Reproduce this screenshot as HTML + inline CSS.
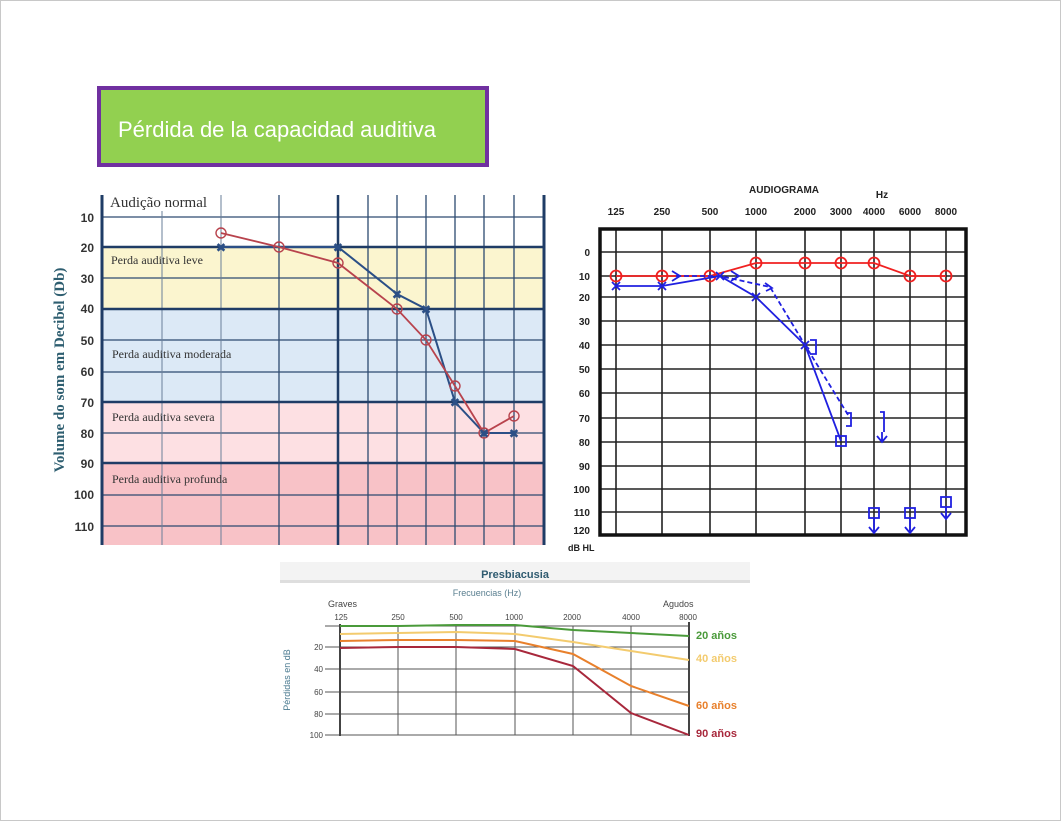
<!DOCTYPE html>
<html><head><meta charset="utf-8"><style>
html,body{margin:0;padding:0;background:#fff;}
svg{display:block;}
</style></head><body>
<svg width="1062" height="822" viewBox="0 0 1062 822" xmlns="http://www.w3.org/2000/svg" font-family="Liberation Sans, sans-serif">
<rect x="0.5" y="0.5" width="1060" height="820" fill="#fff" stroke="#c8c8c8"/>
<!-- title -->
<rect x="99" y="88" width="388" height="77" fill="#92d050" stroke="#7030a0" stroke-width="4"/>
<text x="118" y="137" font-size="22" fill="#fff">Pérdida de la capacidad auditiva</text>

<!-- LEFT CHART -->
<g>
<rect x="102" y="195" width="441" height="52" fill="#ffffff"/>
<rect x="102" y="247" width="441" height="62" fill="#fbf5cf"/>
<rect x="102" y="309" width="441" height="93" fill="#dce9f6"/>
<rect x="102" y="402" width="441" height="61" fill="#fde0e3"/>
<rect x="102" y="463" width="441" height="82" fill="#f8c2c7"/>
<g stroke="#2d4a70" stroke-width="1.3">
<line x1="102" x2="543" y1="217" y2="217"/><line x1="102" x2="543" y1="278" y2="278"/>
<line x1="102" x2="543" y1="340" y2="340"/><line x1="102" x2="543" y1="372" y2="372"/>
<line x1="102" x2="543" y1="433" y2="433"/><line x1="102" x2="543" y1="495" y2="495"/>
<line x1="102" x2="543" y1="526" y2="526"/>
<line x1="162" x2="162" y1="195" y2="545" stroke="#6a7f99" stroke-width="1"/>
<line x1="221" x2="221" y1="195" y2="545" stroke="#6a7f99" stroke-width="1"/>
<line x1="279" x2="279" y1="195" y2="545"/>
<line x1="368" x2="368" y1="195" y2="545"/><line x1="397" x2="397" y1="195" y2="545"/>
<line x1="426" x2="426" y1="195" y2="545"/><line x1="455" x2="455" y1="195" y2="545"/>
<line x1="484" x2="484" y1="195" y2="545"/><line x1="514" x2="514" y1="195" y2="545"/>
</g>
<g stroke="#1f3c66" stroke-width="2.5">
<line x1="102" x2="543" y1="247" y2="247"/><line x1="102" x2="543" y1="309" y2="309"/>
<line x1="102" x2="543" y1="402" y2="402"/><line x1="102" x2="543" y1="463" y2="463"/>
<line x1="102" x2="102" y1="195" y2="545" stroke-width="3"/>
<line x1="338" x2="338" y1="195" y2="545"/>
<line x1="544" x2="544" y1="195" y2="545" stroke-width="3"/>
</g>
<rect x="108" y="193" width="112" height="18" fill="#fff"/>
<g font-family="Liberation Serif, serif" fill="#333">
<text x="110" y="207" font-size="15">Audição normal</text>
<text x="111" y="264" font-size="12">Perda auditiva leve</text>
<text x="112" y="358" font-size="12">Perda auditiva moderada</text>
<text x="112" y="421" font-size="12">Perda auditiva severa</text>
<text x="112" y="483" font-size="12">Perda auditiva profunda</text>
</g>
<g font-size="12" font-weight="bold" fill="#333" text-anchor="end">
<text x="94" y="222">10</text><text x="94" y="252">20</text><text x="94" y="283">30</text>
<text x="94" y="313">40</text><text x="94" y="345">50</text><text x="94" y="376">60</text>
<text x="94" y="407">70</text><text x="94" y="438">80</text><text x="94" y="468">90</text>
<text x="94" y="499">100</text><text x="94" y="531">110</text>
</g>
<text transform="translate(64,370) rotate(-90)" text-anchor="middle" font-family="Liberation Serif, serif" font-weight="bold" font-size="15" fill="#2e5e70">Volume do som em Decibel (Db)</text>
<polyline points="221,247 279,247 338,247 397,294 426,309 455,402 484,433 514,433" fill="none" stroke="#2b4f86" stroke-width="2"/>
<polyline points="221,233 279,247 338,263 397,309 426,340 455,386 484,433 514,416" fill="none" stroke="#b8434d" stroke-width="1.8"/>
<g fill="none" stroke="#b8434d" stroke-width="1.4">
<circle cx="221" cy="233" r="5"/><circle cx="279" cy="247" r="5"/><circle cx="338" cy="263" r="5"/>
<circle cx="397" cy="309" r="5"/><circle cx="426" cy="340" r="5"/><circle cx="455" cy="386" r="5"/>
<circle cx="484" cy="433" r="5"/><circle cx="514" cy="416" r="5"/>
</g>
<g stroke="#2b4f86" stroke-width="1.6" font-size="14" fill="#2b4f86" text-anchor="middle">
<text x="221" y="252">×</text><text x="338" y="252">×</text><text x="397" y="299">×</text>
<text x="426" y="314">×</text><text x="455" y="407">×</text><text x="484" y="438">×</text><text x="514" y="438">×</text>
</g>
</g>

<!-- RIGHT CHART -->
<g>
<g font-size="10" font-weight="bold" fill="#222" text-anchor="middle">
<text x="784" y="193">AUDIOGRAMA</text><text x="882" y="198">Hz</text>
<text x="616" y="215">125</text><text x="662" y="215">250</text><text x="710" y="215">500</text>
<text x="756" y="215">1000</text><text x="805" y="215">2000</text><text x="841" y="215">3000</text>
<text x="874" y="215">4000</text><text x="910" y="215">6000</text><text x="946" y="215">8000</text>
</g>
<g font-size="10" font-weight="bold" fill="#222" text-anchor="end">
<text x="590" y="256">0</text><text x="590" y="280">10</text><text x="590" y="301">20</text>
<text x="590" y="325">30</text><text x="590" y="349">40</text><text x="590" y="373">50</text>
<text x="590" y="397">60</text><text x="590" y="422">70</text><text x="590" y="446">80</text>
<text x="590" y="470">90</text><text x="590" y="493">100</text><text x="590" y="516">110</text>
<text x="590" y="534">120</text>
</g>
<text x="568" y="551" font-size="9" font-weight="bold" fill="#222">dB HL</text>
<g stroke="#222" stroke-width="1.6">
<line x1="600" x2="966" y1="252" y2="252"/><line x1="600" x2="966" y1="276" y2="276"/>
<line x1="600" x2="966" y1="297" y2="297"/><line x1="600" x2="966" y1="321" y2="321"/>
<line x1="600" x2="966" y1="345" y2="345"/><line x1="600" x2="966" y1="369" y2="369"/>
<line x1="600" x2="966" y1="393" y2="393"/><line x1="600" x2="966" y1="418" y2="418"/>
<line x1="600" x2="966" y1="442" y2="442"/><line x1="600" x2="966" y1="466" y2="466"/>
<line x1="600" x2="966" y1="489" y2="489"/><line x1="600" x2="966" y1="512" y2="512"/>
<line x1="616" x2="616" y1="229" y2="535"/><line x1="662" x2="662" y1="229" y2="535"/>
<line x1="710" x2="710" y1="229" y2="535"/><line x1="756" x2="756" y1="229" y2="535"/>
<line x1="805" x2="805" y1="229" y2="535"/><line x1="841" x2="841" y1="229" y2="535"/>
<line x1="874" x2="874" y1="229" y2="535"/><line x1="910" x2="910" y1="229" y2="535"/>
<line x1="946" x2="946" y1="229" y2="535"/>
</g>
<rect x="600" y="229" width="366" height="306" fill="none" stroke="#111" stroke-width="3.5"/>
<polyline points="616,276 662,276 710,276 756,263 805,263 841,263 874,263 910,276 946,276" fill="none" stroke="#f02020" stroke-width="1.8"/>
<g fill="none" stroke="#f02020" stroke-width="1.8">
<circle cx="616" cy="276" r="5.5"/><circle cx="662" cy="276" r="5.5"/><circle cx="710" cy="276" r="5.5"/>
<circle cx="756" cy="263" r="5.5"/><circle cx="805" cy="263" r="5.5"/><circle cx="841" cy="263" r="5.5"/>
<circle cx="874" cy="263" r="5.5"/><circle cx="910" cy="276" r="5.5"/><circle cx="946" cy="276" r="5.5"/>
</g>
<g fill="none" stroke="#2020e0" stroke-width="1.8">
<polyline points="616,286 662,286 720,276 756,297 805,345 841,441"/>
<polyline points="676,276 720,276 770,287 805,345 850,418" stroke-dasharray="5,3"/>
<path d="M672,271 L680,276 L672,281 M731,271 L739,276 L731,281 M765,283 L772,288 L766,291"/>
<path d="M810,340 h6 v14 h-6 M846,413 h5 v13 h-5 M880,412 h4 v20"/>
<path d="M612,282 l8,8 M620,282 l-8,8 M658,282 l8,8 M666,282 l-8,8 M716,272 l8,8 M724,272 l-8,8 M752,293 l8,8 M760,293 l-8,8 M801,341 l8,8 M809,341 l-8,8"/>
<rect x="836" y="436" width="10" height="10"/>
<rect x="869" y="508" width="10" height="10"/><rect x="905" y="508" width="10" height="10"/><rect x="941" y="497" width="10" height="10"/>
<path d="M874,518 v14 M869,527 l5,6 l5,-6 M910,518 v14 M905,527 l5,6 l5,-6 M946,507 v11 M941,513 l5,6 l5,-6 M882,432 v10 M877,436 l5,6 l5,-6"/>
</g>
</g>

<!-- BOTTOM CHART -->
<g>
<rect x="280" y="562" width="470" height="20" fill="#f3f3f3"/>
<rect x="280" y="580" width="470" height="3" fill="#dedede"/>
<text x="515" y="578" text-anchor="middle" font-size="11" font-weight="bold" fill="#2f5b70">Presbiacusia</text>
<text x="487" y="596" text-anchor="middle" font-size="9" fill="#5a7f90">Frecuencias (Hz)</text>
<text x="328" y="607" font-size="9" fill="#444">Graves</text>
<text x="663" y="607" font-size="9" fill="#444">Agudos</text>
<g font-size="8" fill="#444" text-anchor="middle">
<text x="341" y="620">125</text><text x="398" y="620">250</text><text x="456" y="620">500</text>
<text x="514" y="620">1000</text><text x="572" y="620">2000</text><text x="631" y="620">4000</text><text x="688" y="620">8000</text>
</g>
<g font-size="8" fill="#444" text-anchor="end">
<text x="323" y="650">20</text><text x="323" y="672">40</text><text x="323" y="695">60</text>
<text x="323" y="717">80</text><text x="323" y="738">100</text>
</g>
<text transform="translate(290,680) rotate(-90)" text-anchor="middle" font-size="9" fill="#4a7a90">Pérdidas en dB</text>
<g stroke="#555" stroke-width="1">
<line x1="325" x2="689" y1="626" y2="626"/><line x1="325" x2="689" y1="647" y2="647"/>
<line x1="325" x2="689" y1="669" y2="669"/><line x1="325" x2="689" y1="692" y2="692"/>
<line x1="325" x2="689" y1="714" y2="714"/><line x1="325" x2="689" y1="735" y2="735"/>
<line x1="398" x2="398" y1="626" y2="735"/><line x1="456" x2="456" y1="626" y2="735"/>
<line x1="515" x2="515" y1="626" y2="735"/><line x1="573" x2="573" y1="626" y2="735"/>
<line x1="631" x2="631" y1="626" y2="735"/>
</g>
<line x1="340" x2="340" y1="624" y2="736" stroke="#444" stroke-width="2"/>
<line x1="689" x2="689" y1="622" y2="736" stroke="#444" stroke-width="2"/>
<g fill="none" stroke-width="2">
<polyline stroke="#4a9a3a" points="340,626 398,626 456,625 515,625 573,630 631,633 689,636"/>
<polyline stroke="#f3cb6e" points="340,634 398,633 456,632 515,634 573,642 631,651 689,660"/>
<polyline stroke="#e8802c" points="340,641 398,640 456,640 515,641 573,654 631,686 689,706"/>
<polyline stroke="#a8283c" points="340,648 398,647 456,647 515,649 573,666 631,713 689,735"/>
</g>
<g font-size="11" font-weight="bold">
<text x="696" y="639" fill="#4a9a3a">20 años</text>
<text x="696" y="662" fill="#f3cb6e">40 años</text>
<text x="696" y="709" fill="#e8802c">60 años</text>
<text x="696" y="737" fill="#a8283c">90 años</text>
</g>
</g>
</svg>
</body></html>
